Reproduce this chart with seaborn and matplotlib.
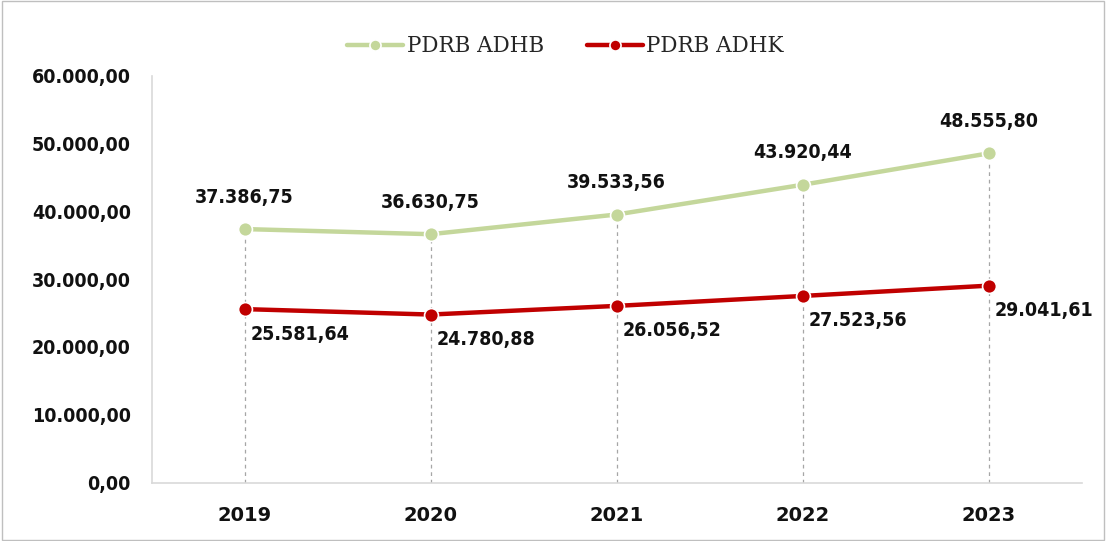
import pandas as pd
import matplotlib.pyplot as plt
import seaborn as sns
from matplotlib.patches import Rectangle

# data
years = ["2019", "2020", "2021", "2022", "2023"]
adhb = [37386.75, 36630.75, 39533.56, 43920.44, 48555.80]
adhk = [25581.64, 24780.88, 26056.52, 27523.56, 29041.61]
series_names = ["PDRB ADHB", "PDRB ADHK"]
y_ticks = [0, 10000, 20000, 30000, 40000, 50000, 60000]

green = "#c4d79b"
red = "#c00000"


def id_fmt(v):
    # Indonesian style: 48.555,80
    s = f"{v:,.2f}"
    return s.replace(",", "X").replace(".", ",").replace("X", ".")


df = pd.DataFrame({
    "year": years * 2,
    "value": adhb + adhk,
    "series": [series_names[0]] * 5 + [series_names[1]] * 5,
})
df["x"] = df["year"].map({y: i for i, y in enumerate(years)})

sns.set_theme(style="white")
plt.rcParams["font.family"] = ["DejaVu Sans"]

fig, ax = plt.subplots(figsize=(11.06, 5.41), dpi=100)
fig.subplots_adjust(left=0.137, right=0.978, top=0.86, bottom=0.108)

# dashed drop lines from the upper series to the axis
ax.vlines(range(len(years)), 0, adhb, colors="#a6a6a6", linestyles=(0, (3, 3)),
          linewidth=0.9, zorder=1)

sns.lineplot(data=df, x="x", y="value", hue="series",
             palette=[green, red], linewidth=3.2, marker="o", markersize=10,
             markeredgecolor="white", markeredgewidth=1.2, ax=ax, zorder=3)

label_font = dict(fontsize=14, fontweight="bold", fontstretch="condensed",
                  color="#111111")
for i, v in enumerate(adhb):
    ax.annotate(id_fmt(v), (i, v), xytext=(0, 23), textcoords="offset points",
                ha="center", va="center", **label_font)
for i, v in enumerate(adhk):
    ax.annotate(id_fmt(v), (i, v), xytext=(40, -18), textcoords="offset points",
                ha="center", va="center", **label_font)

ax.set_xlim(-0.5, len(years) - 0.5)
ax.set_ylim(0, 60000)
ax.set_xticks(range(len(years)))
ax.set_xticklabels(years, fontsize=14, fontweight="bold", color="#111111")
ax.set_yticks(y_ticks)
ax.set_yticklabels([id_fmt(t) for t in y_ticks], fontsize=14, fontweight="bold",
                   fontstretch="condensed", color="#111111")
ax.tick_params(axis="x", length=0, pad=17)
ax.tick_params(axis="y", length=0, pad=15)
ax.set_xlabel("")
ax.set_ylabel("")

for side in ["top", "right"]:
    ax.spines[side].set_visible(False)
for side in ["left", "bottom"]:
    ax.spines[side].set_color("#d9d9d9")
    ax.spines[side].set_linewidth(1.2)

handles, labels = ax.get_legend_handles_labels()
for h in handles:
    h.set_markersize(8)
ax.legend(handles, labels, loc="center", bbox_to_anchor=(0.445, 1.073),
          ncol=2, frameon=False, handlelength=2.6, columnspacing=2.0,
          handletextpad=0.15, prop={"family": "DejaVu Serif", "size": 15.5})

fig.patches.append(Rectangle((0.002, 0.002), 0.996, 0.996, transform=fig.transFigure,
                             fill=False, edgecolor="#bfbfbf", linewidth=1))

fig.savefig("out.png", dpi=100)
